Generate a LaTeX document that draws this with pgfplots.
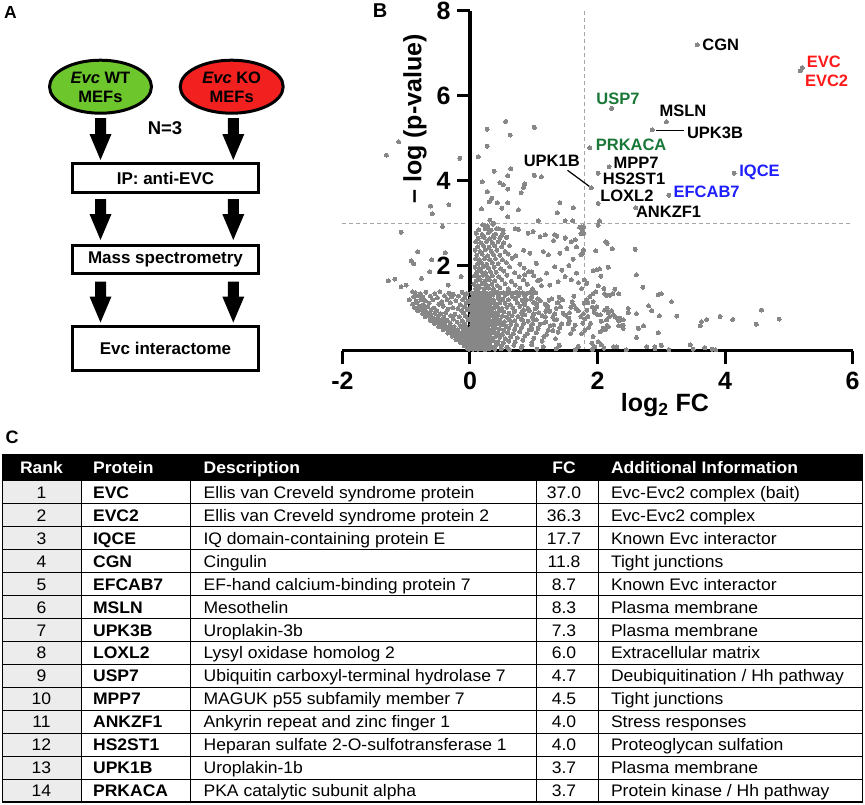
\documentclass[border=0pt]{standalone}
\usepackage{pgfplots}
\pgfplotsset{compat=1.18}
\usepackage{fontspec}
\setmainfont{Liberation Sans}
\newfontfamily\tabfont[FakeStretch=1.05]{Liberation Sans}
\definecolor{ptgray}{RGB}{135,135,135}
\definecolor{dashgray}{RGB}{165,165,165}
\definecolor{lblred}{RGB}{255,25,25}
\definecolor{lblgreen}{RGB}{25,120,55}
\definecolor{lblblue}{RGB}{30,30,255}
\definecolor{wtgreen}{RGB}{110,198,45}
\definecolor{kored}{RGB}{243,32,32}
\definecolor{rankgray}{RGB}{236,236,236}
\pgfplotsset{volcdot/.style={only marks, color=ptgray, mark=*, mark size=2pt, mark options={draw=ptgray, fill=ptgray, line width=0pt}}}
\newcommand{\darrow}[3]{\fill (#1-5.5,#2) -- (#1+5.5,#2) -- (#1+5.5,#3-26) -- (#1+11,#3-26) -- (#1,#3) -- (#1-11,#3-26) -- (#1-5.5,#3-26) -- cycle;}

\begin{document}
\begin{tikzpicture}
\useasboundingbox (0pt,0pt) rectangle (865pt,-804pt);

% ---------------- panel A: workflow
\begin{scope}[x=1pt,y=-1pt]
\node[font=\fontsize{17.5}{20}\selectfont\bfseries] at (10.5,12.5) {A};
\draw[line width=3pt, fill=wtgreen] (100.5,86.7) ellipse [x radius=51pt, y radius=26.5pt];
\draw[line width=3pt, fill=kored] (231.7,86.7) ellipse [x radius=51.5pt, y radius=26.5pt];
\node[align=center, font=\fontsize{16.5}{18.4}\selectfont\bfseries] at (100.5,87.5) {\textit{Evc} WT\\MEFs};
\node[align=center, font=\fontsize{16.5}{18.4}\selectfont\bfseries] at (231.7,87.5) {\textit{Evc} KO\\MEFs};
\node[font=\fontsize{18.5}{20}\selectfont\bfseries] at (165,128) {N=3};
\darrow{100.5}{118}{160}
\darrow{233.3}{118}{160}
\darrow{100.5}{199}{240}
\darrow{233.3}{199}{240}
\darrow{100.5}{281.5}{322.5}
\darrow{233.3}{281.5}{322.5}
\draw[line width=3pt] (72.7,163.3) rectangle (258.3,192.7);
\draw[line width=3pt] (72.7,245) rectangle (258.3,273.3);
\draw[line width=3pt] (72.7,326.7) rectangle (258.3,370);
\node[font=\fontsize{17}{20}\selectfont\bfseries] at (165.5,178) {IP: anti-EVC};
\node[font=\fontsize{17}{20}\selectfont\bfseries] at (165.5,259.5) {Mass spectrometry};
\node[font=\fontsize{17}{20}\selectfont\bfseries] at (165.5,348.3) {Evc interactome};
\node[font=\fontsize{20}{22}\selectfont\bfseries] at (380,10.5) {B};
\end{scope}

% ---------------- panel B: volcano plot
\begin{axis}[
  at={(342.4pt,-350.5pt)}, anchor=south west,
  scale only axis, width=510.3pt, height=340pt,
  xmin=-2, xmax=6, ymin=0, ymax=8,
  axis x line*=bottom, axis y line*=middle,
  axis line style={line width=3.2pt, black},
  xtick={-2,0,2,4,6}, xticklabels={-2,0,2,4,6},
  ytick=\empty,
  hide obscured x ticks=false,
  tick align=outside, major tick length=13pt,
  tick style={line width=3pt, black},
  ticklabel style={font=\fontsize{25}{30}\selectfont\bfseries},
  xticklabel style={yshift=-5pt},
  xlabel={log\textsubscript{2} FC}, ylabel={– log (p-value)},
  label style={font=\fontsize{25}{30}\selectfont\bfseries},
  x label style={at={(axis description cs:0.632,-0.160)}, anchor=center},
  y label style={at={(axis description cs:0.142,0.681)}, anchor=center},
  axis on top, clip=false,
]
\addplot[dashgray, line width=1pt, dash pattern=on 4pt off 3pt] coordinates {(1.8,0) (1.8,8)};
\addplot[dashgray, line width=1pt, dash pattern=on 4pt off 3pt] coordinates {(-2,3) (6,3)};

% y ticks of the axis line through x = 0
\draw[line width=3pt] (axis cs:0,2) -- (axis cs:-0.204,2);
\draw[line width=3pt] (axis cs:0,4) -- (axis cs:-0.204,4);
\draw[line width=3pt] (axis cs:0,6) -- (axis cs:-0.204,6);
\draw[line width=3pt] (axis cs:0,8) -- (axis cs:-0.204,8);
\begin{scope}[every node/.style={anchor=east, inner sep=0pt, font=\fontsize{25}{30}\selectfont\bfseries}]
\node at (axis cs:-0.30,2) {2};
\node at (axis cs:-0.30,4) {4};
\node at (axis cs:-0.30,6) {6};
\node at (axis cs:-0.30,8) {8};
\end{scope}

% left of zero: outliers and cluster
\addplot[volcdot] coordinates {
(-1.31,4.60) (-1.12,4.91) (-0.16,4.52) (-0.62,3.40) (-0.59,3.22) (-0.33,3.43) (-0.43,2.92) (-1.08,2.78)
(-0.82,2.32) (-0.92,2.11) (-0.88,2.04) (-0.60,2.13) (-0.39,2.30) (-0.76,1.70) (-0.63,1.85) (-1.28,1.64)
(-1.18,1.68) (-1.08,1.50) (-1.00,1.54) (-0.34,1.54) (-0.14,1.74) (-0.90,1.38)
(-0.86,1.36) (-0.78,1.33) (-0.69,1.37) (-0.55,1.34) (-0.47,1.38) (-0.33,1.35) (-0.26,1.32) (-0.12,1.37) (-0.05,1.34)
(-0.88,1.26) (-0.81,1.29) (-0.74,1.25) (-0.62,1.28) (-0.51,1.24) (-0.40,1.29) (-0.29,1.26) (-0.18,1.28) (-0.08,1.25)
(-0.95,1.19) (-0.84,1.16) (-0.77,1.20) (-0.70,1.17) (-0.58,1.19) (-0.44,1.15) (-0.36,1.20) (-0.22,1.17) (-0.11,1.19) (-0.03,1.16)
(-0.90,1.09) (-0.83,1.12) (-0.73,1.08) (-0.64,1.11) (-0.49,1.09) (-0.31,1.12) (-0.15,1.08) (-0.06,1.11)
(-0.87,1.01) (-0.80,1.04) (-0.74,0.99) (-0.66,1.03) (-0.56,1.00) (-0.42,1.04) (-0.27,1.01) (-0.19,0.99) (-0.09,1.03)
(-0.82,0.94) (-0.76,0.97) (-0.70,0.93) (-0.61,0.96) (-0.52,0.94) (-0.35,0.97) (-0.13,0.93) (-0.04,0.96)
(-0.74,0.86) (-0.68,0.89) (-0.62,0.85) (-0.55,0.88) (-0.46,0.86) (-0.38,0.89) (-0.24,0.85) (-0.10,0.88)
(-0.70,0.79) (-0.64,0.81) (-0.58,0.77) (-0.50,0.80) (-0.41,0.78) (-0.30,0.82) (-0.17,0.79) (-0.07,0.81)
(-0.62,0.71) (-0.56,0.74) (-0.50,0.70) (-0.44,0.73) (-0.36,0.71) (-0.26,0.74) (-0.12,0.70) (-0.03,0.73)
(-0.56,0.64) (-0.51,0.66) (-0.45,0.63) (-0.39,0.66) (-0.31,0.64) (-0.20,0.67) (-0.08,0.63)
(-0.49,0.56) (-0.44,0.59) (-0.38,0.55) (-0.32,0.58) (-0.25,0.56) (-0.15,0.59) (-0.06,0.55)
(-0.42,0.49) (-0.37,0.51) (-0.31,0.48) (-0.26,0.51) (-0.19,0.49) (-0.11,0.52) (-0.03,0.48)
(-0.35,0.41) (-0.30,0.44) (-0.25,0.40) (-0.20,0.43) (-0.14,0.41) (-0.07,0.44)
(-0.28,0.34) (-0.24,0.36) (-0.19,0.33) (-0.14,0.36) (-0.09,0.34) (-0.04,0.37)
(-0.22,0.26) (-0.17,0.29) (-0.12,0.25) (-0.08,0.28) (-0.03,0.26)
(-0.15,0.19) (-0.11,0.21) (-0.07,0.18) (-0.03,0.21)
(-0.09,0.11) (-0.05,0.14) (-0.02,0.10) (-0.04,0.05) (-0.01,0.03)
};

% right of zero: dense core below 1.4
\addplot[volcdot] coordinates {
(0.03,1.36) (0.08,1.35) (0.13,1.37) (0.18,1.35) (0.23,1.36) (0.28,1.34) (0.33,1.36) (0.38,1.35) (0.43,1.37) (0.48,1.35) (0.53,1.36)
(0.58,1.34) (0.63,1.36) (0.68,1.35) (0.73,1.37) (0.78,1.35) (0.83,1.36) (0.88,1.34) (0.93,1.36) (0.98,1.35) (1.03,1.36)
(0.05,1.30) (0.11,1.29) (0.16,1.31) (0.21,1.29) (0.26,1.30) (0.31,1.28) (0.36,1.31) (0.45,1.29) (0.55,1.30) (0.66,1.28) (0.76,1.30) (0.86,1.29) (0.97,1.27)
(0.02,1.22) (0.07,1.20) (0.12,1.23) (0.17,1.21) (0.22,1.24) (0.27,1.20) (0.32,1.22) (0.37,1.19) (0.44,1.23) (0.51,1.21) (0.60,1.19) (0.71,1.22) (0.82,1.18) (0.95,1.21) (1.10,1.17) (1.28,1.22) (1.45,1.19)
(0.03,1.12) (0.08,1.10) (0.13,1.13) (0.18,1.11) (0.24,1.14) (0.29,1.10) (0.35,1.12) (0.41,1.09) (0.47,1.13) (0.55,1.11) (0.63,1.08) (0.74,1.12) (0.86,1.10) (1.00,1.13) (1.18,1.09) (1.38,1.12) (1.62,1.08) (1.85,1.13)
(0.01,1.02) (0.06,1.00) (0.11,1.03) (0.16,1.01) (0.21,1.04) (0.26,0.99) (0.31,1.02) (0.37,1.00) (0.43,1.03) (0.50,0.99) (0.58,1.02) (0.67,1.00) (0.78,1.04) (0.91,0.99) (1.05,1.02) (1.22,0.98) (1.42,1.03) (1.66,0.99) (1.92,1.02) (2.15,1.00)
(0.03,0.92) (0.08,0.90) (0.13,0.93) (0.18,0.91) (0.23,0.94) (0.28,0.90) (0.34,0.92) (0.40,0.89) (0.46,0.93) (0.53,0.91) (0.61,0.88) (0.70,0.92) (0.81,0.90) (0.93,0.94) (1.08,0.89) (1.25,0.92) (1.46,0.88) (1.70,0.93) (1.95,0.90) (2.22,0.94) (2.48,0.89)
(0.02,0.82) (0.07,0.80) (0.12,0.83) (0.17,0.81) (0.22,0.84) (0.27,0.80) (0.32,0.82) (0.38,0.79) (0.44,0.83) (0.51,0.81) (0.58,0.78) (0.66,0.82) (0.75,0.80) (0.86,0.84) (0.98,0.79) (1.13,0.82) (1.30,0.78) (1.50,0.83) (1.74,0.80) (2.00,0.84) (2.28,0.79)
(0.01,0.72) (0.05,0.70) (0.10,0.73) (0.15,0.71) (0.20,0.74) (0.25,0.70) (0.30,0.72) (0.35,0.69) (0.41,0.73) (0.47,0.71) (0.54,0.68) (0.62,0.72) (0.70,0.70) (0.80,0.74) (0.91,0.69) (1.04,0.72) (1.19,0.68) (1.36,0.73) (1.56,0.70) (1.80,0.74) (2.06,0.69) (2.35,0.72)
(0.03,0.62) (0.07,0.60) (0.11,0.63) (0.16,0.61) (0.21,0.64) (0.26,0.60) (0.31,0.62) (0.36,0.59) (0.42,0.63) (0.49,0.61) (0.56,0.58) (0.64,0.62) (0.73,0.60) (0.84,0.64) (0.96,0.59) (1.10,0.62) (1.26,0.58) (1.44,0.63) (1.65,0.60) (1.89,0.64) (2.15,0.59)
(0.02,0.52) (0.06,0.50) (0.10,0.53) (0.14,0.51) (0.19,0.54) (0.24,0.50) (0.29,0.52) (0.34,0.49) (0.40,0.53) (0.46,0.51) (0.53,0.48) (0.61,0.52) (0.70,0.50) (0.81,0.54) (0.93,0.49) (1.07,0.52) (1.23,0.48) (1.41,0.53) (1.62,0.50) (1.86,0.54) (2.12,0.49) (2.40,0.52)
(0.01,0.42) (0.05,0.40) (0.09,0.43) (0.13,0.41) (0.17,0.44) (0.22,0.40) (0.27,0.42) (0.32,0.39) (0.38,0.43) (0.44,0.41) (0.51,0.38) (0.59,0.42) (0.68,0.40) (0.78,0.44) (0.90,0.39) (1.04,0.42) (1.20,0.38) (1.38,0.43) (1.58,0.40)
(0.02,0.32) (0.06,0.30) (0.10,0.33) (0.14,0.31) (0.18,0.34) (0.23,0.30) (0.28,0.32) (0.34,0.29) (0.40,0.33) (0.47,0.31) (0.55,0.28) (0.64,0.32) (0.74,0.30) (0.86,0.34) (1.00,0.29) (1.16,0.32) (1.34,0.28)
(0.01,0.22) (0.05,0.20) (0.09,0.23) (0.13,0.21) (0.17,0.24) (0.21,0.20) (0.26,0.22) (0.31,0.19) (0.37,0.23) (0.44,0.21) (0.52,0.18) (0.61,0.22) (0.71,0.20) (0.83,0.24) (0.97,0.19) (1.13,0.22)
(0.02,0.12) (0.06,0.10) (0.10,0.13) (0.14,0.11) (0.18,0.14) (0.23,0.10) (0.28,0.12) (0.34,0.09) (0.41,0.13) (0.49,0.11) (0.58,0.08) (0.69,0.12) (0.82,0.10) (0.97,0.13) (1.15,0.09) (1.40,0.12) (1.70,0.10)
(0.01,0.04) (0.05,0.03) (0.09,0.05) (0.13,0.03) (0.18,0.04) (0.24,0.02) (0.31,0.05) (0.39,0.03) (0.49,0.04) (0.62,0.02) (0.80,0.05) (1.05,0.03) (1.35,0.04) (1.65,0.02) (1.92,0.03) (2.10,0.05) (2.45,0.02) (2.90,0.04) (3.12,0.02) (3.50,0.03) (3.85,0.02)
(0.04,0.08) (0.08,0.16) (0.12,0.07) (0.16,0.18) (0.20,0.09) (0.24,0.15) (0.29,0.06) (0.03,0.27) (0.07,0.35) (0.11,0.26) (0.15,0.37) (0.19,0.28) (0.25,0.36) (0.30,0.26)
(0.04,0.47) (0.08,0.55) (0.12,0.46) (0.16,0.57) (0.20,0.47) (0.26,0.56) (0.33,0.45) (0.05,0.66) (0.09,0.77) (0.13,0.67) (0.18,0.77) (0.23,0.66) (0.29,0.78) (0.36,0.66)
(0.06,0.87) (0.10,0.97) (0.15,0.87) (0.20,0.98) (0.25,0.86) (0.31,0.97) (0.38,0.86) (0.04,1.07) (0.09,1.17) (0.14,1.06) (0.20,1.17) (0.26,1.07) (0.33,1.16) (0.40,1.06)
(1.06,1.22) (1.04,1.10) (1.02,0.98) (1.00,0.86) (0.99,0.74) (0.98,0.62) (0.97,0.50)
(1.40,1.25) (1.37,1.12) (1.35,0.99) (1.33,0.86) (1.32,0.73) (1.31,0.60) (1.30,0.47)
(1.63,1.28) (1.60,1.15) (1.58,1.02) (1.56,0.89) (1.55,0.76) (1.54,0.63)
(1.24,1.18) (1.21,1.05) (1.19,0.92) (1.18,0.79) (1.17,0.66)
(0.88,1.20) (0.86,1.08) (0.84,0.96) (0.83,0.84) (0.82,0.72)
};

% right of zero: above 1.4 and below the threshold
\addplot[volcdot] coordinates {
(0.20,2.96) (0.27,2.93) (0.36,2.97)
(0.14,2.84) (0.24,2.87) (0.33,2.83) (0.45,2.86)
(0.10,2.76) (0.19,2.73) (0.29,2.77) (0.40,2.74) (0.52,2.76)
(0.13,2.64) (0.22,2.67) (0.31,2.63) (0.38,2.66) (0.47,2.64) (0.58,2.67)
(0.09,2.56) (0.17,2.53) (0.26,2.57) (0.35,2.54) (0.44,2.56) (0.53,2.53)
(0.12,2.44) (0.21,2.47) (0.30,2.43) (0.39,2.46) (0.50,2.44) (0.62,2.47)
(0.08,2.36) (0.16,2.33) (0.24,2.37) (0.33,2.34) (0.42,2.36) (0.55,2.33)
(0.11,2.24) (0.19,2.27) (0.28,2.23) (0.37,2.26) (0.47,2.24) (0.60,2.27) (0.72,2.23)
(0.09,2.16) (0.15,2.13) (0.23,2.17) (0.31,2.14) (0.40,2.16) (0.51,2.13) (0.66,2.17)
(0.12,2.04) (0.18,2.07) (0.26,2.03) (0.35,2.06) (0.44,2.04) (0.57,2.07) (0.78,2.03)
(0.08,1.96) (0.14,1.93) (0.21,1.97) (0.29,1.94) (0.38,1.96) (0.48,1.93) (0.62,1.97) (0.85,1.94)
(0.11,1.84) (0.17,1.87) (0.24,1.83) (0.32,1.86) (0.41,1.84) (0.53,1.87) (0.70,1.83) (0.92,1.86)
(0.07,1.76) (0.13,1.73) (0.20,1.77) (0.27,1.74) (0.35,1.76) (0.45,1.73) (0.58,1.77) (0.77,1.74) (1.00,1.76)
(0.10,1.64) (0.16,1.67) (0.23,1.63) (0.30,1.66) (0.39,1.64) (0.50,1.67) (0.65,1.63) (0.84,1.66) (1.06,1.64)
(0.06,1.56) (0.12,1.53) (0.19,1.57) (0.26,1.54) (0.34,1.56) (0.43,1.53) (0.55,1.57) (0.71,1.54) (0.90,1.56) (1.12,1.53)
(0.09,1.46) (0.15,1.48) (0.22,1.45) (0.29,1.47) (0.37,1.45) (0.47,1.48) (0.60,1.45) (0.78,1.47) (0.98,1.45)
(0.91,2.76) (0.99,2.80) (1.10,2.68) (1.18,2.72) (1.33,2.72) (1.49,2.64) (1.59,2.56) (1.67,2.44) (1.52,2.40)
(1.41,2.29) (1.23,2.25) (1.15,2.33) (0.94,2.29) (0.84,2.36) (1.04,2.05) (0.97,1.85) (1.20,1.82) (1.33,1.97)
(1.44,1.89) (1.49,1.74) (1.59,1.66) (1.67,1.82) (1.38,1.62) (1.25,1.54) (1.10,1.66) (0.86,1.78) (1.31,2.59)
(1.55,2.00) (1.62,2.15) (1.70,1.60) (1.74,2.25) (1.75,2.91) (1.76,2.83) (1.74,2.75) (1.61,3.05)
(0.31,3.07) (0.37,3.00) (0.24,2.91) (0.29,2.86) (0.42,2.87) (0.52,2.83) (0.71,2.87) (0.76,2.85) (0.21,2.67)
(0.37,2.71) (0.50,2.71) (0.57,2.66) (1.72,2.90) (1.36,2.69) (1.49,2.65) (1.65,2.61)
(2.03,3.05) (2.01,2.95) (1.78,2.91) (1.78,2.76) (2.13,2.56) (2.15,2.52) (2.23,2.40) (1.97,2.35) (1.78,2.37)
(1.77,2.29) (2.59,2.38) (1.93,1.88) (1.99,1.90) (2.03,1.92) (2.17,1.96) (2.05,1.75) (2.61,1.78) (1.79,1.66)
(1.83,1.58) (1.75,1.46) (2.71,1.49)
(1.93,1.34) (1.97,1.38) (2.01,1.52) (2.11,1.34) (2.14,1.30) (2.19,1.30) (2.24,1.34) (2.27,1.44) (2.33,1.33)
(2.10,1.46) (1.88,1.27) (1.83,1.19) (1.79,1.11) (1.93,1.15) (1.99,1.03) (1.96,0.99) (2.04,0.84) (2.11,0.95)
(2.17,0.89) (2.19,0.80) (2.25,0.84) (2.30,0.76) (2.33,0.70) (2.35,0.76) (2.40,0.72) (2.40,0.60) (2.33,0.58)
(2.14,0.72) (2.17,0.56) (2.09,0.52) (2.04,0.44) (1.83,0.95) (1.78,0.87) (1.85,0.80) (1.77,0.64) (1.80,0.48)
(1.75,0.40) (1.93,0.33) (1.91,0.17) (2.01,0.21) (2.06,0.13) (1.96,0.09) (2.25,0.09) (2.30,0.09)
(2.48,0.99) (2.61,0.87) (2.80,1.05) (2.85,0.94) (2.95,1.31) (3.00,1.33) (2.97,0.82) (3.16,1.15) (3.24,0.81)
(2.64,0.52) (2.72,0.58) (2.61,0.31) (2.95,0.42) (3.61,0.58) (3.63,0.68) (3.71,0.73) (3.45,0.13) (2.77,0.09)
(2.90,0.09) (3.00,0.12) (3.92,0.80) (4.12,0.73) (4.57,0.95) (4.49,0.62) (4.85,0.74) (3.68,0.07) (3.80,0.03)
};

% right of zero: above the threshold, unlabelled
\addplot[volcdot] coordinates {
(0.56,5.39) (0.27,5.21) (0.63,5.07) (1.01,5.25) (0.27,4.81) (0.13,4.56) (0.38,4.22) (0.64,4.28) (1.01,4.12)
(1.12,4.09) (0.19,3.97) (0.47,3.95) (0.52,3.90) (0.59,4.11) (0.59,3.80) (0.86,3.92) (0.84,3.84) (0.80,3.71)
(0.27,3.74) (0.34,3.58) (0.30,3.50) (0.43,3.48) (0.50,3.35) (0.59,3.48) (0.18,3.33) (0.76,3.31) (0.59,3.15)
(1.41,3.48) (1.62,3.36) (1.37,3.24) (1.07,3.05) (1.49,3.05)
};

% labelled proteins
\addplot[volcdot] coordinates {
(3.56,7.19) (5.21,6.66) (5.18,6.58) (2.22,5.70) (3.08,5.38) (2.86,5.19) (1.88,4.77) (2.18,4.32)
(2.01,4.17) (1.90,3.83) (2.60,3.36) (2.01,3.46) (3.12,3.65) (4.14,4.17)
};

\draw[line width=1.2pt] (axis cs:2.92,5.17) -- (axis cs:3.35,5.17);
\draw[line width=1.2pt] (axis cs:1.53,4.24) -- (axis cs:1.90,3.83);
\begin{scope}[every node/.style={anchor=west, inner sep=0pt, font=\fontsize{16.5}{18}\selectfont\bfseries}]
\node at (axis cs:3.64,7.19) {CGN};
\node[text=lblred] at (axis cs:5.28,6.80) {EVC};
\node[text=lblred] at (axis cs:5.25,6.34) {EVC2};
\node[text=lblgreen] at (axis cs:1.98,5.92) {USP7};
\node at (axis cs:2.97,5.64) {MSLN};
\node at (axis cs:3.40,5.13) {UPK3B};
\node[text=lblgreen] at (axis cs:1.97,4.83) {PRKACA};
\node at (axis cs:0.84,4.46) {UPK1B};
\node at (axis cs:2.25,4.42) {MPP7};
\node at (axis cs:2.08,4.05) {HS2ST1};
\node[text=lblblue] at (axis cs:4.22,4.20) {IQCE};
\node at (axis cs:2.04,3.64) {LOXL2};
\node[text=lblblue] at (axis cs:3.19,3.73) {EFCAB7};
\node at (axis cs:2.60,3.26) {ANKZF1};
\end{scope}
\end{axis}

% ---------------- panel C: table
\begin{scope}[x=1pt,y=-1pt]
\node[font=\fontsize{18}{20}\selectfont\bfseries] at (12,437) {C};
\fill[black] (2.5,454.3) rectangle (862.5,481);
\fill[rankgray] (2.5,481) rectangle (81.8,802);
\foreach \i in {1,...,13} \draw[line width=1pt] (2.5,{481+\i*22.93}) -- (862.5,{481+\i*22.93});
\foreach \c in {81.8,190.7,536,598.7} \draw[line width=1pt] (\c,481) -- (\c,802);
\draw[line width=1.2pt] (2.5,454.3) rectangle (862.5,802);
\begin{scope}[every node/.style={inner sep=0pt, text=white, font=\tabfont\fontsize{16.7}{18}\selectfont\bfseries}]
\node[anchor=base] at (41.5,473.5) {Rank};
\node[anchor=base west] at (92.9,473.5) {Protein};
\node[anchor=base west] at (203.4,473.5) {Description};
\node[anchor=base] at (564,473.5) {FC};
\node[anchor=base west] at (610.8,473.5) {Additional Information};
\end{scope}
\begin{scope}[every node/.style={inner sep=0pt, font=\tabfont\fontsize{16.7}{18}\selectfont}]
\foreach \r/\p/\d/\f/\a [count=\i from 0] in {
1/EVC/Ellis van Creveld syndrome protein/37.0/Evc-Evc2 complex (bait),
2/EVC2/Ellis van Creveld syndrome protein 2/36.3/Evc-Evc2 complex,
3/IQCE/IQ domain-containing protein E/17.7/Known Evc interactor,
4/CGN/Cingulin/11.8/Tight junctions,
5/EFCAB7/EF-hand calcium-binding protein 7/8.7/Known Evc interactor,
6/MSLN/Mesothelin/8.3/Plasma membrane,
7/UPK3B/Uroplakin-3b/7.3/Plasma membrane,
8/LOXL2/Lysyl oxidase homolog 2/6.0/Extracellular matrix,
9/USP7/Ubiquitin carboxyl-terminal hydrolase 7/4.7/{Deubiquitination / Hh pathway},
10/MPP7/MAGUK p55 subfamily member 7/4.5/Tight junctions,
11/ANKZF1/Ankyrin repeat and zinc finger 1/4.0/Stress responses,
12/HS2ST1/Heparan sulfate 2-O-sulfotransferase 1/4.0/Proteoglycan sulfation,
13/UPK1B/Uroplakin-1b/3.7/Plasma membrane,
14/PRKACA/PKA catalytic subunit alpha/3.7/{Protein kinase / Hh pathway}} {
  \node[anchor=base] at (41.5,{481+(\i+0.5)*22.93+6}) {\r};
  \node[anchor=base west] at (92.9,{481+(\i+0.5)*22.93+6}) {\bfseries\p};
  \node[anchor=base west] at (203.4,{481+(\i+0.5)*22.93+6}) {\d};
  \node[anchor=base] at (564,{481+(\i+0.5)*22.93+6}) {\f};
  \node[anchor=base west] at (610.8,{481+(\i+0.5)*22.93+6}) {\a};
}
\end{scope}
\end{scope}
\end{tikzpicture}
\end{document}
